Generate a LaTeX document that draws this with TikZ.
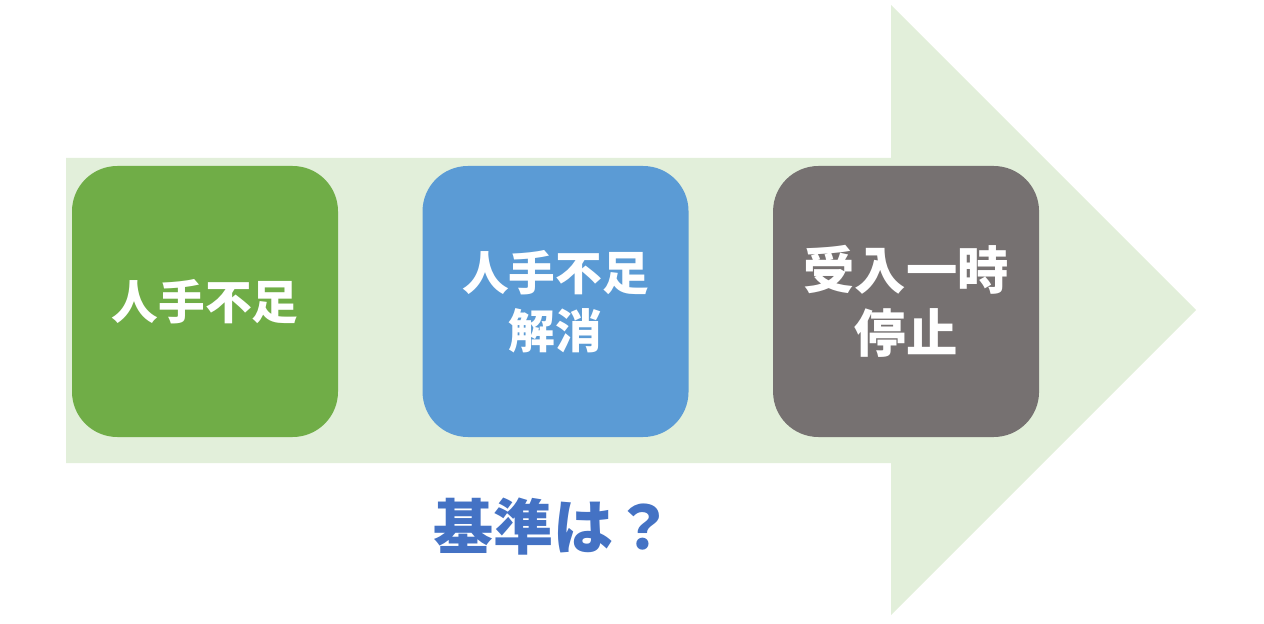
\documentclass[tikz,border=0pt]{standalone}
\usepackage{fontspec}
\newfontfamily\jpfont{Noto Sans CJK JP}
\usepackage{tikz}
\usetikzlibrary{positioning}
\definecolor{flowbg}{HTML}{E2EFDA}
\definecolor{stepgreen}{HTML}{70AD47}
\definecolor{stepblue}{HTML}{5B9BD5}
\definecolor{stepgray}{HTML}{767171}
\definecolor{asktext}{HTML}{4472C4}
\begin{document}
\begin{tikzpicture}[x=0.75pt, y=-0.75pt,
                stepbox/.style={rectangle, rounded corners=34pt, minimum width=199.5pt, minimum height=203.25pt,
                    inner sep=0pt, align=center, text=white, font=\jpfont\bfseries\fontsize{35}{43.5}\selectfont},
                bigstep/.style={stepbox, font=\jpfont\bfseries\fontsize{38.5}{47}\selectfont},
                question/.style={text=asktext, font=\jpfont\bfseries\fontsize{45}{54}\selectfont}
            ]
            \useasboundingbox (0,0) rectangle (1264,624);
            \fill[flowbg] (66,158) -- (891,158) -- (891,5) -- (1196,310) -- (891,615) -- (891,463) -- (66,463) -- cycle;
            \node[stepbox, fill=stepgreen](short) at (205,301.5){人手不足};
            \node[stepbox, fill=stepblue, right=63pt of short](solved){人手不足\\解消};
            \node[bigstep, fill=stepgray, right=63pt of solved](stop){受入一時\\停止};
            \node[question](ask) at (553,527){基準は？};
        \end{tikzpicture}
\end{document}
